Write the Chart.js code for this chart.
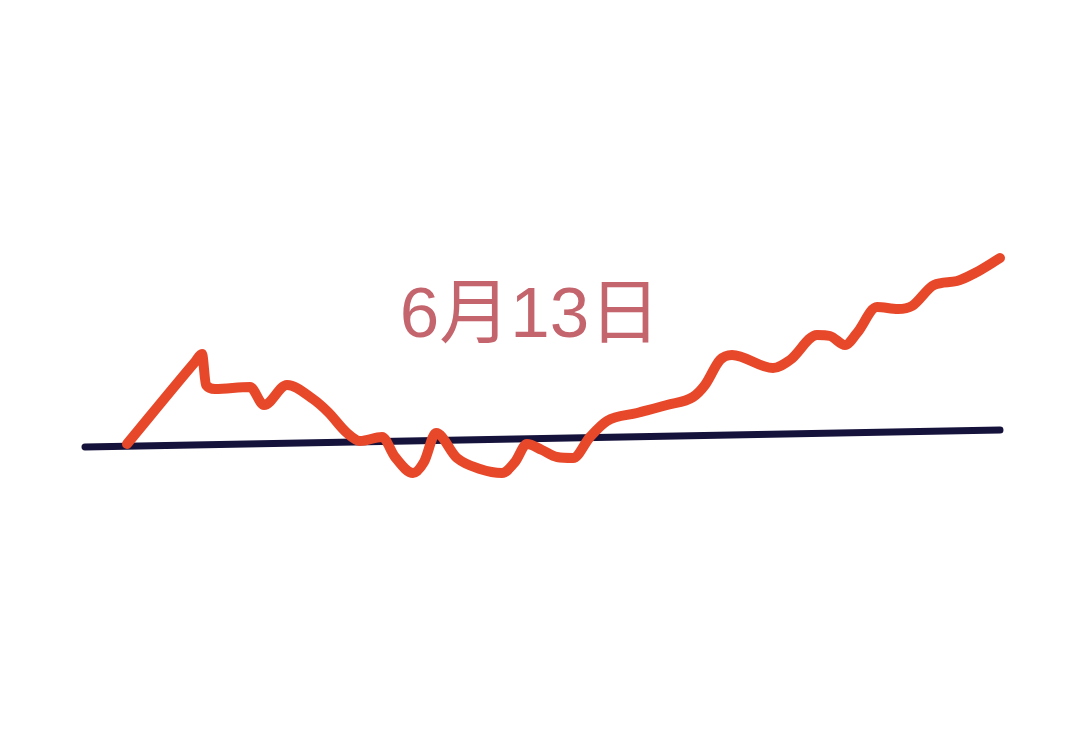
<!DOCTYPE html>
<html>
<head>
<meta charset="utf-8">
<script src="https://cdn.jsdelivr.net/npm/chart.js@4/dist/chart.umd.min.js"></script>
<style>
  html, body { margin: 0; padding: 0; background: #fff; }
  #wrap { width: 1080px; height: 752px; }
</style>
</head>
<body>
<div id="wrap"><canvas id="chart" width="1080" height="752"></canvas></div>
<script>
// trace of the red line (x = day-ish position, y = level above baseline)
const traceX = [12.7, 19.5, 20.2, 20.6, 21.5, 25.0, 26.4, 28.7, 31.3, 32.8, 34.7, 36.0, 38.2, 39.5, 41.3, 42.4, 43.6, 45.7, 48.0, 50.2, 51.5, 52.7, 54.2, 55.7, 57.3, 59.0, 60.7, 63.7, 66.7, 69.3, 70.5, 72.0, 73.2, 77.3, 79.0, 81.7, 83.0, 84.5, 85.7, 87.7, 89.8, 91.2, 93.4, 95.7, 97.5, 100.0];
const traceY = [0.1, 8.3, 9.1, 6.0, 5.6, 5.8, 4.0, 6.0, 4.6, 3.3, 1.2, 0.4, 0.8, -1.2, -2.8, -1.7, 1.2, -1.3, -2.4, -2.8, -1.7, 0.1, -0.5, -1.2, -1.3, 0.8, 2.4, 3.2, 4.0, 4.8, 6.0, 8.5, 9.0, 7.7, 8.5, 11.0, 10.9, 10.0, 11.2, 13.8, 13.6, 13.9, 16.0, 16.4, 17.2, 18.7];

// dark reference line, slightly rising
const baseX = [8.5, 100.0];
const baseY = [-0.2, 1.5];

const labelText = "6月13日";
const labelPos = [53.0, 12.8];

const toPoints = (xs, ys) => xs.map((x, i) => ({ x: x, y: ys[i] }));

const labelPlugin = {
  id: "label",
  beforeDraw(chart) {
    const ctx = chart.ctx;
    ctx.save();
    ctx.fillStyle = "#ffffff";
    ctx.fillRect(0, 0, chart.width, chart.height);
    ctx.restore();
  },
  afterDatasetsDraw(chart) {
    const ctx = chart.ctx;
    const x = chart.scales.x.getPixelForValue(labelPos[0]);
    const y = chart.scales.y.getPixelForValue(labelPos[1]);
    ctx.save();
    ctx.font = '71px "Liberation Sans", "Noto Sans CJK SC", sans-serif';
    ctx.fillStyle = "#c4646c";
    ctx.textAlign = "center";
    ctx.textBaseline = "middle";
    ctx.fillText(labelText, x, y);
    ctx.restore();
  },
};

new Chart(document.getElementById("chart").getContext("2d"), {
  type: "line",
  data: {
    datasets: [
      {
        label: "trace",
        data: toPoints(traceX, traceY),
        borderColor: "#e8482a",
        borderWidth: 10,
        pointRadius: 0,
        cubicInterpolationMode: "monotone",
        borderCapStyle: "round",
        borderJoinStyle: "round",
        fill: false,
      },
      {
        label: "base",
        data: toPoints(baseX, baseY),
        borderColor: "#15123b",
        borderWidth: 7,
        pointRadius: 0,
        borderCapStyle: "round",
        fill: false,
      },
    ],
  },
  options: {
    responsive: false,
    animation: false,
    layout: { padding: 0 },
    plugins: { legend: { display: false }, tooltip: { enabled: false } },
    scales: {
      x: { type: "linear", min: 0, max: 108, display: false },
      y: { min: -30.7, max: 44.5, display: false },
    },
  },
  plugins: [labelPlugin],
});
</script>
</body>
</html>
